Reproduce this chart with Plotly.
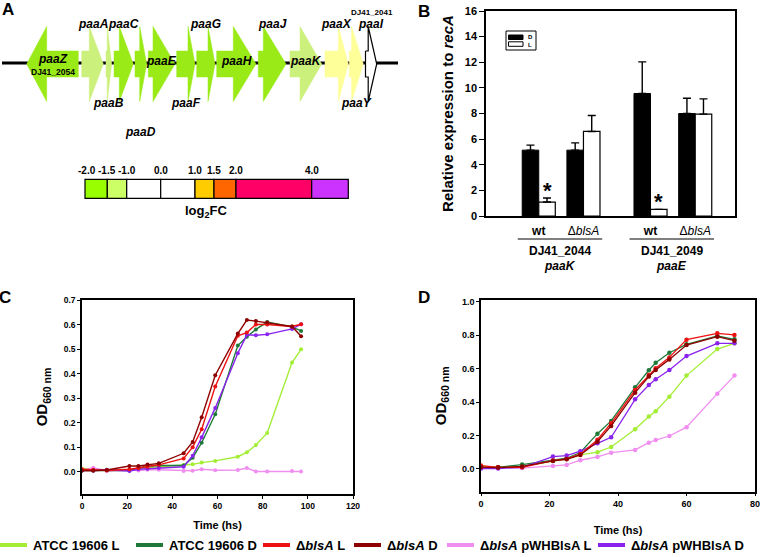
import plotly.graph_objects as go

W, H = 760, 557
FONT = "Arial, 'Liberation Sans', Helvetica, sans-serif"

# ======================= DATA =======================
# ---- Panel A: gene map (map units along the contig; start -> end gives strand) ----
gene_names = ["paaZ", "paaA", "paaB", "paaC", "paaD", "paaE", "paaF",
              "paaG", "paaH", "paaJ", "paaK", "paaX", "paaY", "paaI"]
gene_start = [78.3, 81.7, 106.0, 114.0, 135.0, 148.3, 176.7,
              196.7, 216.7, 258.3, 290.0, 325.0, 349.3, 365.5]
gene_end = [26.7, 103.3, 111.7, 133.3, 146.7, 175.0, 195.0,
            215.0, 256.0, 286.0, 321.7, 348.3, 363.3, 376.7]
gene_class = ["strong", "mild", "mild", "strong", "strong", "strong", "strong",
              "strong", "strong", "strong", "mild", "pale", "pale", "none"]
gene_locus = {"paaZ": "DJ41_2054", "paaI": "DJ41_2041"}
contig_span = [2, 398]

# colour key (log2 fold change)
key_labels = ["-2.0", "-1.5", "-1.0", "0.0", "1.0", "1.5", "2.0", "4.0"]
key_colors = ["#99ff00", "#ccff66", "#ffffff", "#ffffff",
              "#ffcc00", "#ff6600", "#ff0066", "#cc33ff"]

# ---- Panel B: qRT-PCR ----
b_loci = ["DJ41_2044", "DJ41_2049"]
b_genes = ["paaK", "paaE"]
b_strains = ["<b>wt</b>", "Δ<i>blsA</i>"]
b_D_mean = [5.14, 5.14, 9.56, 8.00]
b_D_err = [0.39, 0.57, 2.47, 1.19]
b_L_mean = [1.09, 6.60, 0.52, 7.95]
b_L_err = [0.31, 1.24, 0.00, 1.19]
b_signif = [True, False, True, False]

# ---- Panel C: growth curves ----
c_time = [0, 5, 11, 21, 25, 29, 34, 45, 49, 53, 59, 69, 73, 77, 82, 93, 97]
c_atcc_L = [0.012, 0.010, 0.008, 0.008, 0.012, 0.016, 0.020, 0.027, 0.030, 0.037, 0.044, 0.061, 0.079, 0.109, 0.158, 0.445, 0.499]
c_atcc_D = [0.005, 0.005, 0.007, 0.005, 0.015, 0.022, 0.025, 0.025, 0.057, 0.118, 0.234, 0.514, 0.550, 0.580, 0.610, 0.590, 0.574]
c_blsA_L = [0.010, 0.008, 0.005, 0.010, 0.015, 0.020, 0.028, 0.054, 0.100, 0.173, 0.347, 0.554, 0.567, 0.600, 0.600, 0.592, 0.601]
c_blsA_D = [0.005, 0.004, 0.007, 0.023, 0.023, 0.029, 0.034, 0.075, 0.121, 0.222, 0.393, 0.563, 0.618, 0.614, 0.608, 0.592, 0.552]
c_comp_L = [0.005, 0.016, 0.003, 0.007, 0.005, 0.008, 0.008, 0.003, 0.004, 0.010, 0.006, 0.007, 0.015, 0.001, 0.001, 0.003, 0.001]
c_comp_D = [0.005, 0.005, 0.008, 0.003, 0.010, 0.012, 0.015, 0.020, 0.065, 0.140, 0.260, 0.483, 0.558, 0.556, 0.560, 0.582, 0.601]

# ---- Panel D: growth curves ----
d_time = [0, 5, 12, 21, 25, 29, 34, 38, 45, 49, 51, 55, 60, 69, 74]
d_atcc_L = [0.015, 0.012, 0.015, 0.048, 0.060, 0.084, 0.100, 0.131, 0.237, 0.313, 0.345, 0.432, 0.558, 0.717, 0.751]
d_atcc_D = [0.010, 0.010, 0.026, 0.050, 0.064, 0.098, 0.211, 0.287, 0.488, 0.590, 0.635, 0.695, 0.745, 0.795, 0.775]
d_blsA_L = [0.020, 0.010, 0.010, 0.050, 0.060, 0.088, 0.175, 0.273, 0.472, 0.562, 0.602, 0.667, 0.773, 0.811, 0.801]
d_blsA_D = [0.010, 0.008, 0.015, 0.048, 0.058, 0.084, 0.163, 0.257, 0.456, 0.552, 0.592, 0.655, 0.741, 0.791, 0.767]
d_comp_L = [0.010, 0.010, 0.005, 0.018, 0.024, 0.052, 0.072, 0.097, 0.114, 0.157, 0.173, 0.197, 0.250, 0.450, 0.558]
d_comp_D = [0.002, 0.002, 0.010, 0.074, 0.080, 0.106, 0.153, 0.189, 0.416, 0.502, 0.536, 0.592, 0.675, 0.751, 0.751]

series_names = ["ATCC 19606 L", "ATCC 19606 D", "Δ<i>blsA</i> L", "Δ<i>blsA</i> D",
                "Δ<i>blsA</i> pWHBlsA L", "Δ<i>blsA</i> pWHBlsA D"]
c_series = [c_atcc_L, c_atcc_D, c_blsA_L, c_blsA_D, c_comp_L, c_comp_D]
d_series = [d_atcc_L, d_atcc_D, d_blsA_L, d_blsA_D, d_comp_L, d_comp_D]

# ======================= STYLE / LAYOUT =======================
class_color = {"strong": "#9aea18", "mild": "#ccf07c", "pale": "#ffff99", "none": "#ffffff"}
head_len = [20, 14, 4.5, 14, 7, 22, 7, 7, 22.7, 22.7, 21.7, 10, 11.7, 8.5]
label_pos = ["in", "up", "down", "up", "down2", "in", "down", "up", "in", "up", "in", "up", "down", "up"]
label_y = {"in": 61, "up": 24, "down": 103, "down2": 132}
ARROW_C, BODY_H, HEAD_H = 64, 13, 37.5
key_edges = [85, 107.3, 126.7, 160.7, 195, 214, 236, 311.7, 348.3]
series_colors = ["#a3ee35", "#1f7a3a", "#ee1111", "#8e0000", "#f08ef0", "#8a22ee"]
draw_order = [0, 4, 1, 5, 2, 3]
legend_x = [0, 136, 263, 354, 447, 598]   # swatch start (px)


def px(x):
    return x / W


def py(y):
    return 1 - y / H


fig = go.Figure()

# ---------- Panel A ----------
fig.add_trace(go.Scatter(x=contig_span, y=[ARROW_C - 1, ARROW_C - 1], mode="lines",
                         line=dict(color="black", width=3), xaxis="x", yaxis="y",
                         showlegend=False, hoverinfo="skip"))
for i, name in enumerate(gene_names):
    s, e = gene_start[i], gene_end[i]
    d = 1 if e > s else -1
    sh = e - d * head_len[i]
    xs = [s, sh, sh, e, sh, sh, s, s]
    ys = [ARROW_C - BODY_H, ARROW_C - BODY_H, ARROW_C - HEAD_H, ARROW_C,
          ARROW_C + HEAD_H, ARROW_C + BODY_H, ARROW_C + BODY_H, ARROW_C - BODY_H]
    outline = gene_class[i] == "none"
    col = class_color[gene_class[i]]
    fig.add_trace(go.Scatter(x=xs, y=ys, mode="lines", fill="toself", fillcolor=col,
                             line=dict(color="black" if outline else col,
                                       width=1.2 if outline else 0.5),
                             xaxis="x", yaxis="y", showlegend=False, hoverinfo="skip"))
    cx = (s + e) / 2
    ly = 59 if name == "paaZ" else label_y[label_pos[i]]
    fig.add_annotation(x=cx, y=ly, xref="x", yref="y", text=f"<b><i>{name}</i></b>",
                       showarrow=False, xanchor="center", yanchor="middle",
                       font=dict(size=12, color="black"))
    if name in gene_locus:
        inside = label_pos[i] == "in"
        fig.add_annotation(x=cx + (0 if inside else 1), y=72 if inside else 12, xref="x", yref="y",
                           text=f"<b>{gene_locus[name]}</b>", showarrow=False,
                           xanchor="center", yanchor="middle",
                           font=dict(size=8.5 if inside else 8, color="black"))

# colour key
widths = [key_edges[k + 1] - key_edges[k] for k in range(len(key_colors))]
fig.add_trace(go.Bar(orientation="h", y=[188.8] * len(key_colors), x=widths, base=key_edges[:-1],
                     width=19, marker=dict(color=key_colors, line=dict(color="black", width=1.2)),
                     xaxis="x", yaxis="y", showlegend=False, hoverinfo="skip"))
for k, lab in enumerate(key_labels):
    fig.add_annotation(x=key_edges[k] + (2 if k == 0 else 0), y=170, xref="x", yref="y",
                       text=f"<b>{lab}</b>", showarrow=False, xanchor="center", yanchor="middle",
                       font=dict(size=10))
fig.add_annotation(x=206.7, y=211, xref="x", yref="y", text="<b>log<sub>2</sub>FC</b>",
                   showarrow=False, xanchor="center", yanchor="middle", font=dict(size=13))

# ---------- Panel B ----------
bar_w = 0.37
group_x = [1.18 + s + 2.5 * g for g in range(len(b_genes)) for s in range(len(b_strains))]
tick_text = [b_strains[s] for g in range(len(b_genes)) for s in range(len(b_strains))]
fig.add_trace(go.Bar(x=group_x, y=b_D_mean, width=bar_w, offset=-bar_w,
                     marker=dict(color="black", line=dict(color="black", width=1)),
                     error_y=dict(type="data", array=b_D_err, arrayminus=[0] * 4, symmetric=False,
                                  color="black", thickness=1.4, width=4),
                     xaxis="x2", yaxis="y2", showlegend=False, name="D"))
fig.add_trace(go.Bar(x=group_x, y=b_L_mean, width=bar_w, offset=0,
                     marker=dict(color="white", line=dict(color="black", width=1.2)),
                     error_y=dict(type="data", array=b_L_err, arrayminus=[0] * 4, symmetric=False,
                                  color="black", thickness=1.4, width=4),
                     xaxis="x2", yaxis="y2", showlegend=False, name="L"))
for i, sig in enumerate(b_signif):
    if sig:
        fig.add_annotation(x=group_x[i] + bar_w / 2, y=b_L_mean[i] + b_L_err[i] + 0.62,
                           xref="x2", yref="y2", text="<b>*</b>", showarrow=False,
                           xanchor="center", yanchor="middle", font=dict(size=22, color="black"))
for g in range(len(b_genes)):
    left = group_x[2 * g] - bar_w - 0.1
    right = group_x[2 * g + 1] + bar_w + 0.05
    fig.add_shape(type="line", xref="x2", yref="paper", x0=left, x1=right,
                  y0=py(239), y1=py(239), line=dict(color="black", width=1))
    mid = (left + right) / 2
    fig.add_annotation(x=mid, y=py(251), xref="x2", yref="paper", text=f"<b>{b_loci[g]}</b>",
                       showarrow=False, xanchor="center", yanchor="middle", font=dict(size=12))
    fig.add_annotation(x=mid, y=py(265.5), xref="x2", yref="paper", text=f"<b><i>{b_genes[g]}</i></b>",
                       showarrow=False, xanchor="center", yanchor="middle", font=dict(size=12))

# B legend (box with D / L swatches)
bx0, bx1, by0, by1 = 486, 735, 11, 216


def bdx(p):
    return (p - bx0) / (bx1 - bx0)


def bdy(p):
    return 1 - (p - by0) / (by1 - by0)


fig.add_shape(type="rect", xref="x2 domain", yref="y2 domain", x0=bdx(506), x1=bdx(536),
              y0=bdy(31), y1=bdy(50), line=dict(color="black", width=1), fillcolor="white")
fig.add_shape(type="rect", xref="x2 domain", yref="y2 domain", x0=bdx(508.5), x1=bdx(523),
              y0=bdy(35), y1=bdy(39.5), line=dict(color="black", width=1), fillcolor="black")
fig.add_shape(type="rect", xref="x2 domain", yref="y2 domain", x0=bdx(508.5), x1=bdx(523),
              y0=bdy(41.8), y1=bdy(46.3), line=dict(color="black", width=1), fillcolor="white")
fig.add_annotation(x=bdx(526), y=bdy(40.8), xref="x2 domain", yref="y2 domain",
                   text="<b>D<br>L</b>", showarrow=False, xanchor="left", yanchor="middle",
                   align="left", font=dict(size=6))

# ---------- Panel C & D ----------
for idx in draw_order:
    fig.add_trace(go.Scatter(x=c_time, y=c_series[idx], mode="lines+markers",
                             line=dict(color=series_colors[idx], width=1.4),
                             marker=dict(size=4, color=series_colors[idx]),
                             xaxis="x3", yaxis="y3", showlegend=False, name=series_names[idx]))
    fig.add_trace(go.Scatter(x=d_time, y=d_series[idx], mode="lines+markers",
                             line=dict(color=series_colors[idx], width=1.3),
                             marker=dict(size=4.5, color=series_colors[idx]),
                             xaxis="x4", yaxis="y4", showlegend=False, name=series_names[idx]))

# bottom legend
for k, name in enumerate(series_names):
    x0 = legend_x[k]
    fig.add_shape(type="line", xref="paper", yref="paper", x0=px(x0), x1=px(x0 + 27),
                  y0=py(545), y1=py(545), line=dict(color=series_colors[k], width=4))
    fig.add_annotation(x=px(x0 + 31), y=py(545), xref="paper", yref="paper",
                       text=f"<b>{name}</b>", showarrow=False, xanchor="left", yanchor="middle",
                       font=dict(size=13))

# panel letters
for letter, (lx, ly) in {"A": (8, 10), "B": (424, 11), "C": (5, 297), "D": (424, 297)}.items():
    fig.add_annotation(x=px(lx), y=py(ly), xref="paper", yref="paper", text=f"<b>{letter}</b>",
                       showarrow=False, xanchor="center", yanchor="middle", font=dict(size=17))

axis_common = dict(showgrid=False, zeroline=False, showline=True, linecolor="black",
                   mirror=True, ticks="outside", tickcolor="black", linewidth=1.5)

fig.update_layout(
    width=W, height=H, margin=dict(l=0, r=0, t=0, b=0, autoexpand=False),
    paper_bgcolor="white", plot_bgcolor="white", barmode="overlay", showlegend=False,
    font=dict(family=FONT, color="black"),
    xaxis=dict(domain=[0, px(400)], range=[0, 400], visible=False, fixedrange=True),
    yaxis=dict(domain=[py(220), 1], range=[220, 0], visible=False, fixedrange=True),
    xaxis2=dict(domain=[px(486), px(735)], range=[0, 5.57], anchor="y2", showgrid=False,
                zeroline=False, showline=True, linecolor="black", linewidth=1.5, mirror=True,
                ticks="", tickvals=group_x, ticktext=tick_text, tickfont=dict(size=12),
                ticklabelstandoff=3),
    yaxis2=dict(domain=[py(216), py(11)], range=[0, 16], dtick=2, anchor="x2",
                ticklen=5, tickwidth=1.3, tickfont=dict(size=11, weight="bold"),
                title=dict(text="<b>Relative expression to <i>recA</i></b>", font=dict(size=15),
                           standoff=8),
                **axis_common),
    xaxis3=dict(domain=[px(82), px(353)], range=[0, 120], dtick=20, anchor="y3",
                ticklen=3, tickfont=dict(size=8.5, weight="bold"), ticklabeloverflow="allow",
                title=dict(text="<b>Time (hs)</b>", font=dict(size=11), standoff=11),
                **axis_common),
    yaxis3=dict(domain=[py(494), py(300)], range=[-0.091, 0.7],
                tickvals=[0, 0.1, 0.2, 0.3, 0.4, 0.5, 0.6, 0.7],
                tickformat=".1f", anchor="x3", ticklen=3,
                tickfont=dict(size=8.5, weight="bold"),
                title=dict(text="<b>OD<sub>660 nm</sub></b>", font=dict(size=15), standoff=12),
                **axis_common),
    xaxis4=dict(domain=[px(481), px(755)], range=[0, 80], dtick=20, anchor="y4",
                ticklen=3, tickfont=dict(size=9, weight="bold"), ticklabeloverflow="allow",
                title=dict(text="<b>Time (hs)</b>", font=dict(size=11), standoff=18),
                **axis_common),
    yaxis4=dict(domain=[py(491.7), py(300)], range=[-0.136, 1.01],
                tickvals=[0, 0.2, 0.4, 0.6, 0.8, 1.0],
                tickformat=".1f", anchor="x4", ticklen=3,
                tickfont=dict(size=9, weight="bold"),
                title=dict(text="<b>OD<sub>660 nm</sub></b>", font=dict(size=15), standoff=12),
                **axis_common),
)

fig.write_html("out.html", config={"displayModeBar": False},
               post_script="document.body.style.margin='0px';")
